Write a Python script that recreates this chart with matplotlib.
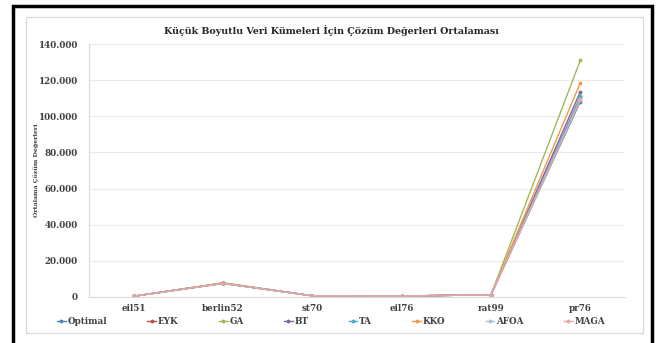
import matplotlib
matplotlib.use("Agg")
import matplotlib.pyplot as plt
from matplotlib.patches import Rectangle
from matplotlib.ticker import FuncFormatter, MultipleLocator

datasets = ["eil51", "berlin52", "st70", "eil76", "rat99", "pr76"]

optimal = [426, 7542, 675, 538, 1211, 108159]
eyk = [428, 7544, 677, 545, 1220, 110500]
ga = [440, 7900, 700, 560, 1260, 131000]
bt = [430, 7600, 685, 548, 1230, 113600]
ta = [429, 7580, 680, 546, 1225, 111000]
kko = [435, 7700, 690, 552, 1240, 118500]
afoa = [428, 7560, 678, 544, 1218, 109500]
maga = [427, 7550, 676, 540, 1215, 109000]

series = [
    ("Optimal", optimal, "#4F81BD"),
    ("EYK", eyk, "#C0504D"),
    ("GA", ga, "#9BBB59"),
    ("BT", bt, "#8064A2"),
    ("TA", ta, "#4BACC6"),
    ("KKO", kko, "#F79646"),
    ("AFOA", afoa, "#A7C0DE"),
    ("MAGA", maga, "#E6A5A3"),
]

plt.rcParams["font.family"] = ["DejaVu Serif"]
plt.rcParams["font.weight"] = "bold"

fig = plt.figure(figsize=(6.62, 3.43), dpi=100)
W, H = 662, 343

# outer black frame and the light chart border
fig.patches.append(Rectangle((13 / W, -0.05), (652 - 13) / W, 1.05 - 6 / H,
                             transform=fig.transFigure, fill=False,
                             edgecolor="black", linewidth=2.5))
fig.patches.append(Rectangle((26 / W, 1 - 333 / H), (643 - 26) / W, (333 - 17) / H,
                             transform=fig.transFigure, fill=False,
                             edgecolor="#D9D9D9", linewidth=0.9))

ax = fig.add_axes([89 / W, 1 - 297 / H, (625 - 89) / W, (297 - 44) / H])
x = list(range(len(datasets)))
for name, vals, col in series:
    ax.plot(x, vals, color=col, linewidth=1.0, marker="o", markersize=1.8, label=name)

ax.set_xlim(-0.5, len(datasets) - 0.5)
ax.set_ylim(0, 140000)
ax.yaxis.set_major_locator(MultipleLocator(20000))
ax.yaxis.set_major_formatter(FuncFormatter(lambda v, p: f"{int(v):,}".replace(",", ".")))
ax.set_xticks(x)
ax.set_xticklabels(datasets)
ax.tick_params(axis="both", length=0, labelsize=6.3, colors="#404040")
ax.tick_params(axis="y", pad=8)
ax.tick_params(axis="x", pad=5)
ax.grid(axis="y", color="#EBEBEB", linewidth=0.8)
ax.set_axisbelow(True)
for s in ["top", "right"]:
    ax.spines[s].set_visible(False)
ax.spines["left"].set_color("#D9D9D9")
ax.spines["bottom"].set_color("#D9D9D9")
ax.spines["left"].set_linewidth(0.8)
ax.spines["bottom"].set_linewidth(0.8)

fig.text(36 / W, 1 - 170 / H, "Ortalama Çözüm Değerleri", rotation=90,
         ha="center", va="center", fontsize=4.5, color="#404040")
fig.text(0.5, 1 - 30 / H, "Küçük Boyutlu Veri Kümeleri İçin Çözüm Değerleri Ortalaması",
         ha="center", va="center", fontsize=6.8, fontweight="bold", color="#262626")

fig.legend(loc="center", bbox_to_anchor=(0.5, 1 - 322 / H), ncol=8, frameon=False,
           fontsize=6.3, handlelength=1.0, handletextpad=0.2, columnspacing=4.6,
           labelcolor="#404040")

fig.savefig("out.png", dpi=100)
